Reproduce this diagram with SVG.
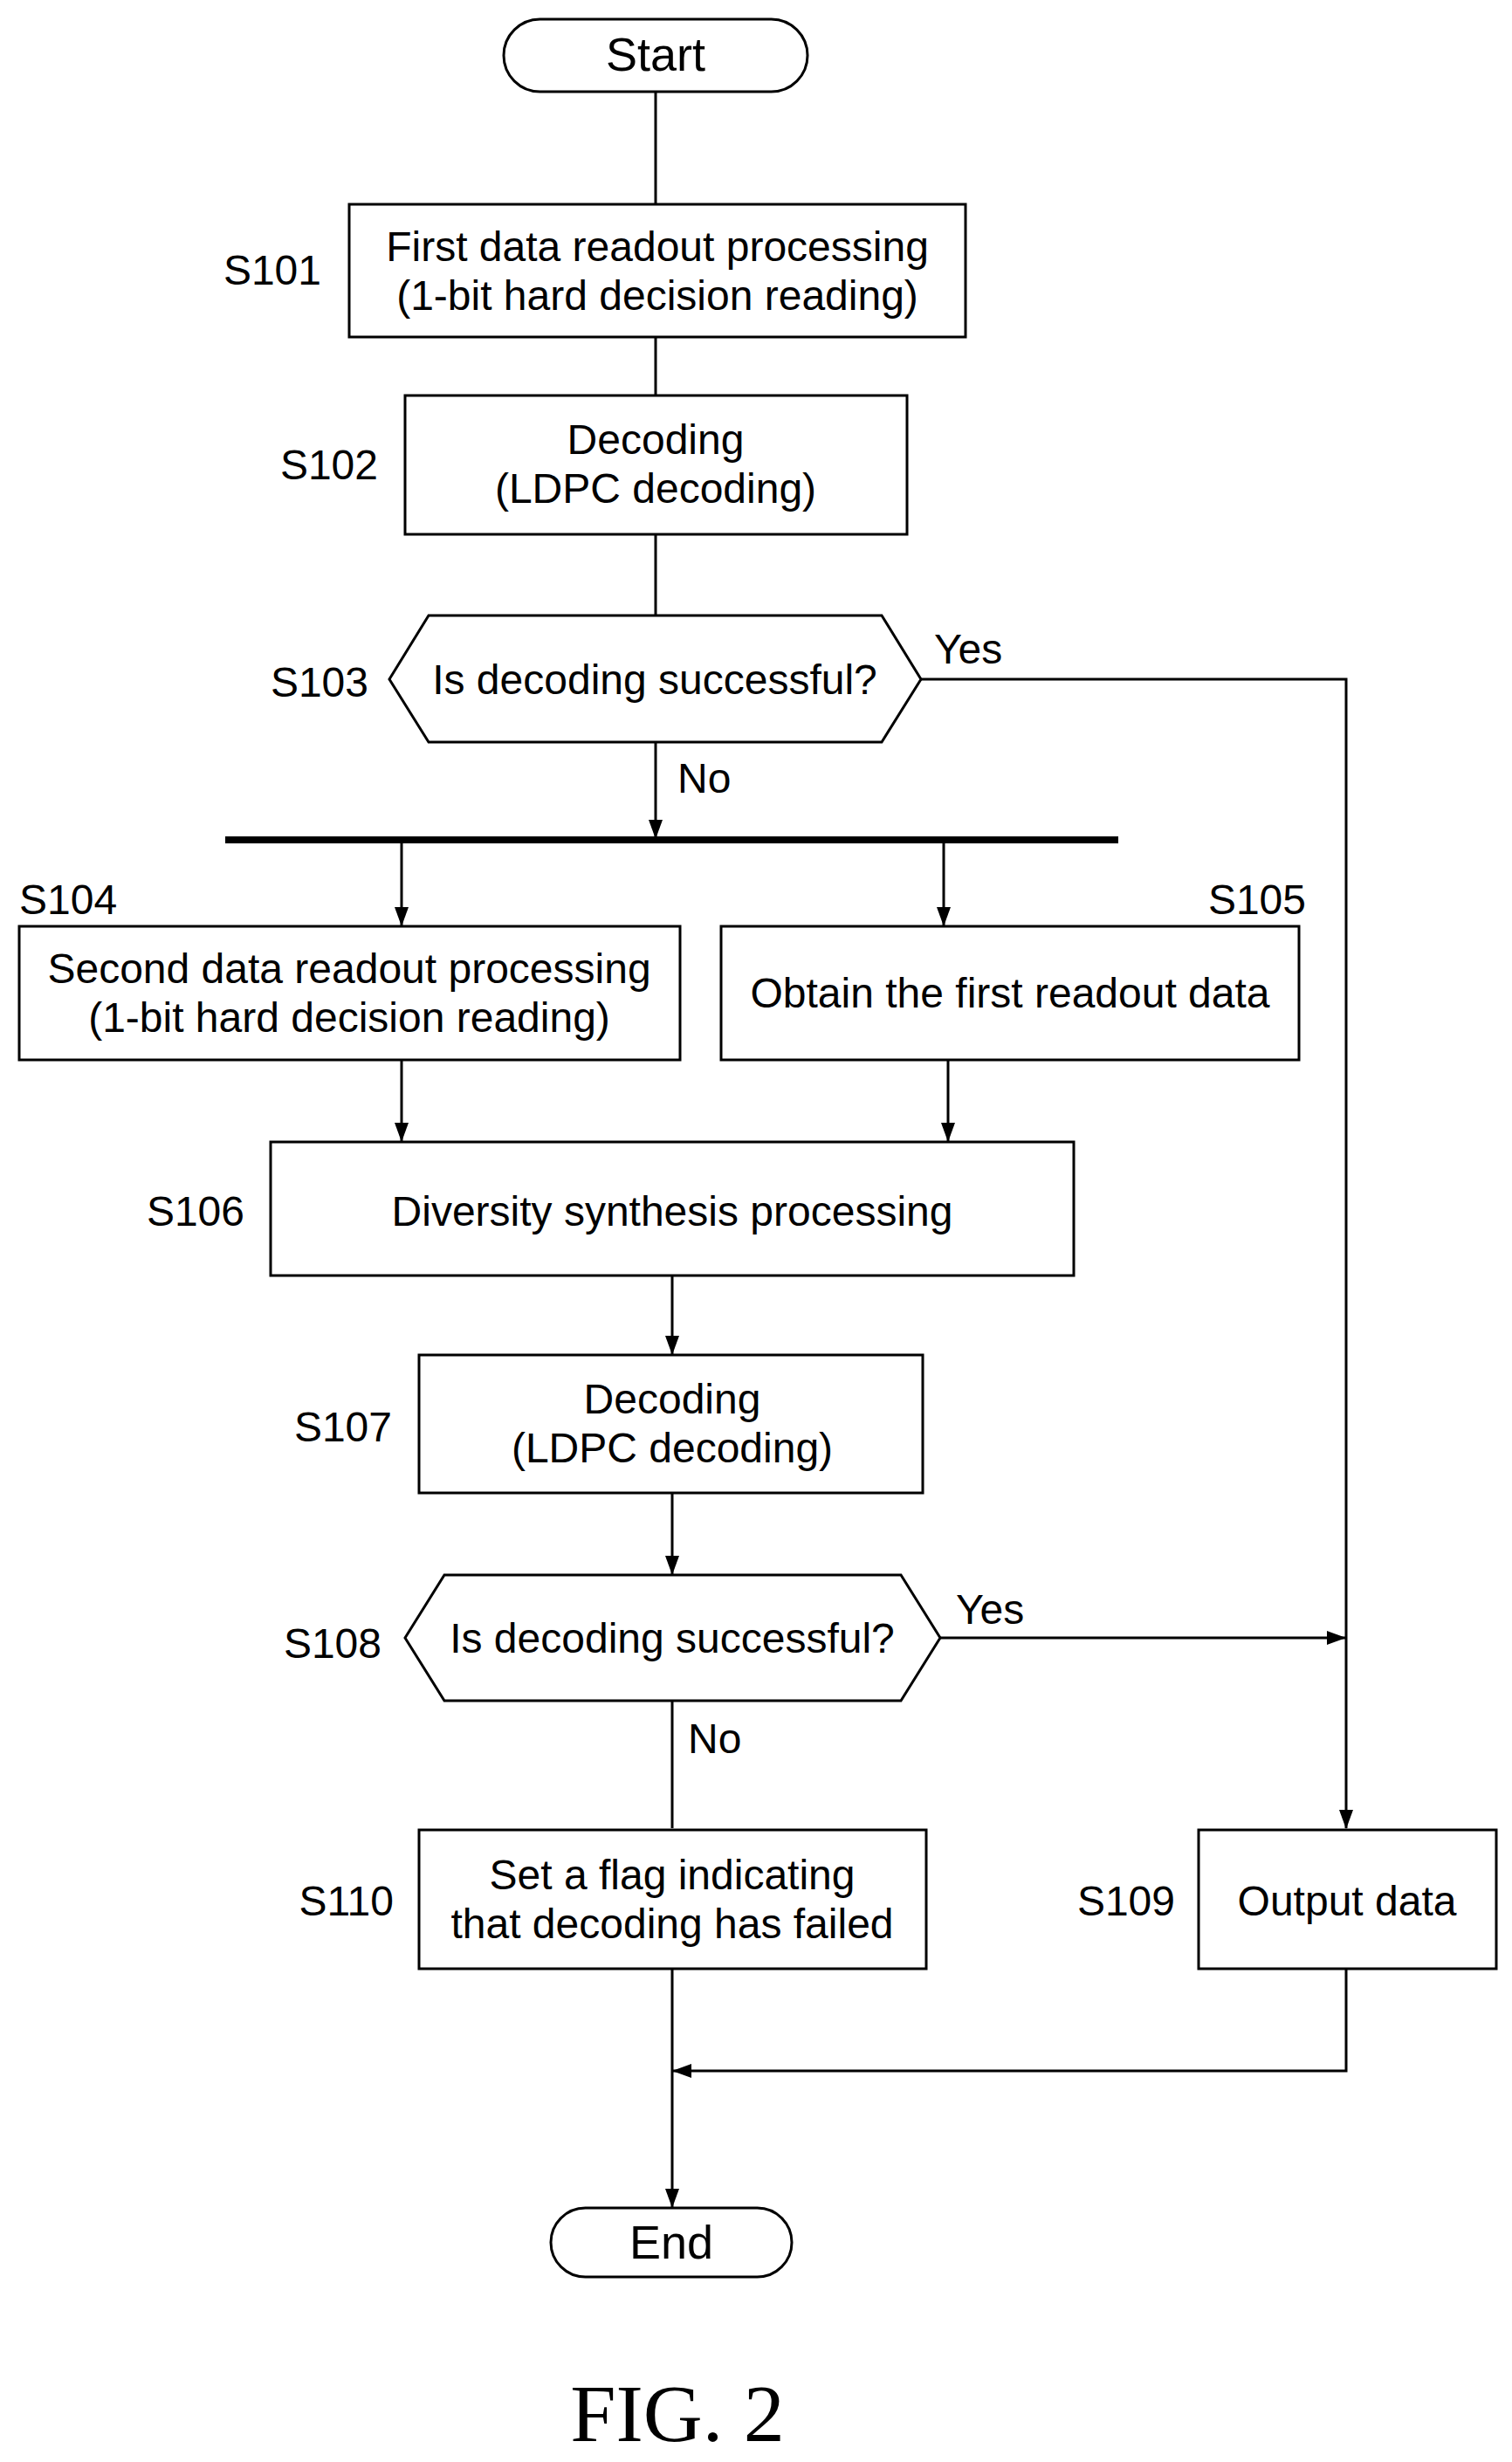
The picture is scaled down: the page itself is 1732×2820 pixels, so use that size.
<svg xmlns="http://www.w3.org/2000/svg" width="1732" height="2820" viewBox="0 0 1732 2820">
<defs><marker id="a" markerWidth="22" markerHeight="16" refX="21" refY="8" orient="auto" markerUnits="userSpaceOnUse"><path d="M0,0L22,8L0,16z" fill="#000"/></marker></defs>
<style>
.s{fill:#fff;stroke:#000;stroke-width:3}
text{font-family:"Liberation Sans",Arial,sans-serif;font-size:48px;fill:#000}
.c{text-anchor:middle}.r{text-anchor:end}
.l{fill:none;stroke:#000;stroke-width:3}
</style>
<rect width="1732" height="2820" fill="#fff"/>
<g id="connectors">
<path class="l" d="M751,105V234M751,386V453M751,612V705"/>
<path class="l" d="M1055,778H1542V2094" marker-end="url(#a)"/>
<path class="l" d="M751,850V960" marker-end="url(#a)"/>
<path d="M258,962H1281" stroke="#000" stroke-width="8"/>
<path class="l" d="M460,962V1060" marker-end="url(#a)"/>
<path class="l" d="M1081,962V1060" marker-end="url(#a)"/>
<path class="l" d="M460,1214V1307" marker-end="url(#a)"/>
<path class="l" d="M1086,1214V1307" marker-end="url(#a)"/>
<path class="l" d="M770,1461V1551" marker-end="url(#a)"/>
<path class="l" d="M770,1710V1803" marker-end="url(#a)"/>
<path class="l" d="M1077,1876H1541" marker-end="url(#a)"/>
<path class="l" d="M770,1948V2094"/>
<path class="l" d="M1542,2255V2372H771" marker-end="url(#a)"/>
<path class="l" d="M770,2255V2528" marker-end="url(#a)"/>
</g>
<g id="start"><rect class="s" x="577" y="22" width="348" height="83" rx="41.5"/><text class="c" x="751" y="81" style="font-size:54px">Start</text></g>
<g id="S101"><rect class="s" x="400" y="234" width="706" height="152"/><text class="c" x="753" y="299">First data readout processing</text><text class="c" x="753" y="355">(1-bit hard decision reading)</text><text class="r" x="368" y="326">S101</text></g>
<g id="S102"><rect class="s" x="464" y="453" width="575" height="159"/><text class="c" x="751" y="520">Decoding</text><text class="c" x="751" y="576">(LDPC decoding)</text><text class="r" x="433" y="549">S102</text></g>
<g id="S103"><polygon class="s" points="446,778 491,705 1010,705 1055,778 1010,850 491,850"/><text class="c" x="750" y="795">Is decoding successful?</text><text class="r" x="422" y="798">S103</text><text x="1070" y="760">Yes</text><text x="776" y="908">No</text></g>
<g id="S104"><rect class="s" x="22" y="1061" width="757" height="153"/><text class="c" x="400" y="1126">Second data readout processing</text><text class="c" x="400" y="1182">(1-bit hard decision reading)</text><text x="22" y="1047">S104</text></g>
<g id="S105"><rect class="s" x="826" y="1061" width="662" height="153"/><text class="c" x="1157" y="1154">Obtain the first readout data</text><text class="r" x="1496" y="1047">S105</text></g>
<g id="S106"><rect class="s" x="310" y="1308" width="920" height="153"/><text class="c" x="770" y="1404">Diversity synthesis processing</text><text class="r" x="280" y="1404">S106</text></g>
<g id="S107"><rect class="s" x="480" y="1552" width="577" height="158"/><text class="c" x="770" y="1619">Decoding</text><text class="c" x="770" y="1675">(LDPC decoding)</text><text class="r" x="449" y="1651">S107</text></g>
<g id="S108"><polygon class="s" points="464,1876 509,1804 1032,1804 1077,1876 1032,1948 509,1948"/><text class="c" x="770" y="1893">Is decoding successful?</text><text class="r" x="437" y="1899">S108</text><text x="1095" y="1860">Yes</text><text x="788" y="2008">No</text></g>
<g id="S110"><rect class="s" x="480" y="2096" width="581" height="159"/><text class="c" x="770" y="2164">Set a flag indicating</text><text class="c" x="770" y="2220">that decoding has failed</text><text class="r" x="451" y="2194">S110</text></g>
<g id="S109"><rect class="s" x="1373" y="2096" width="341" height="159"/><text class="c" x="1543" y="2194">Output data</text><text class="r" x="1346" y="2194">S109</text></g>
<g id="end"><rect class="s" x="631" y="2529" width="276" height="79" rx="39.5"/><text class="c" x="769" y="2587" style="font-size:54px">End</text></g>
<text class="c" x="776" y="2796" style="font-family:'Liberation Serif','Times New Roman',serif;font-size:94px">FIG. 2</text>
</svg>
